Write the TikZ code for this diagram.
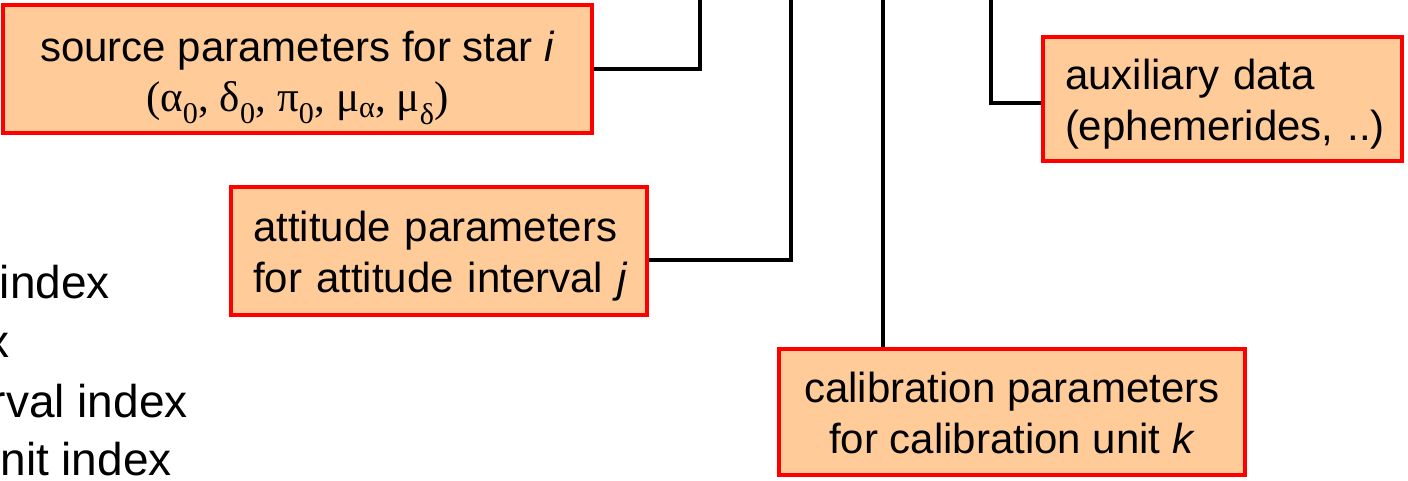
\documentclass[tikz,border=0pt]{standalone}
\usepackage{fontspec}
\setmainfont{Liberation Sans}
\newfontfamily\serifgreek{Liberation Serif}
\definecolor{boxfill}{HTML}{FFCC99}
\definecolor{boxline}{HTML}{FF0000}
\tikzset{
  parbox/.style={draw=boxline, line width=4pt, fill=boxfill, inner sep=0pt,
    font=\fontsize{42}{51}\selectfont},
  boxtext/.style={inner sep=0pt, font=\fontsize{42}{51}\selectfont},
  conn/.style={draw=black, line width=3.4pt},
  sidetext/.style={inner sep=0pt, anchor=base east, font=\fontsize{46}{55}\selectfont}
}
\begin{document}
\begin{tikzpicture}[x=1pt,y=-1pt]
\useasboundingbox (0,0) rectangle (1408,480);
\clip (0,0) rectangle (1408,480);
\fill[white] (0,0) rectangle (1408,480);

% left index texts (cut by the picture edge)
\node[sidetext] (t1) at (110,298) {index};
\node[sidetext] (t2) at (10,357) {index};
\node[sidetext] (t3) at (188,417) {interval index};
\node[sidetext] (t4) at (172,475) {unit index};

% boxes
\node[parbox, minimum width=589pt, minimum height=128pt] (src) at (297.5,69) {};
\node[boxtext, align=center] (srcText) at ([yshift=-9pt]src.center)
  {source parameters for star \textit{i}\\[-1pt]
   {\serifgreek\fontsize{43}{51}\selectfont (α\textsubscript{0}, δ\textsubscript{0}, π\textsubscript{0}, μ\textsubscript{α}, μ\textsubscript{δ})}};
\node[parbox, minimum width=416pt, minimum height=128pt] (att) at (439,251) {};
\node[boxtext, text width=372pt, align=left] (attText) at ([yshift=-5pt]att.center)
  {\mbox{attitude parameters}\\\mbox{for attitude interval \textit{j}}};
\node[parbox, minimum width=466pt, minimum height=126pt] (cal) at (1012,412) {};
\node[boxtext, align=center] (calText) at ([yshift=-1pt]cal.center)
  {calibration parameters\\for calibration unit \textit{k}};
\node[parbox, minimum width=359pt, minimum height=124pt] (aux) at (1222.5,99) {};
\node[boxtext, text width=315pt, align=left] (auxText) at ([yshift=-5pt]aux.center)
  {\mbox{auxiliary data}\\\mbox{(ephemerides, ..)}};

% free ends at the top edge
\coordinate (srcTop) at (700,-5);
\coordinate (attTop) at (791,-5);
\coordinate (calTop) at (883,-5);
\coordinate (auxTop) at (991,-5);

% connectors
\draw[conn] (src.east) -| (srcTop);
\draw[conn] (att.east |- 0,260) -| (attTop);
\draw[conn] (cal.north -| calTop) -- (calTop);
\draw[conn] (aux.west |- 0,103) -| (auxTop);
\end{tikzpicture}
\end{document}
